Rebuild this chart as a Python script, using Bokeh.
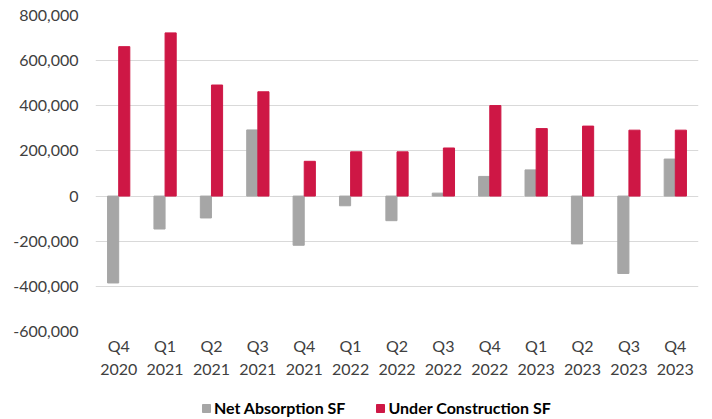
from bokeh.plotting import figure
from bokeh.layouts import column
from bokeh.models import (Legend, LegendItem, NumeralTickFormatter, ColumnDataSource,
                          FixedTicker, LinearAxis, Range1d)
from bokeh.transform import dodge
from bokeh.embed import file_html
from bokeh.resources import INLINE

quarters = ["Q4 2020", "Q1 2021", "Q2 2021", "Q3 2021", "Q4 2021", "Q1 2022", "Q2 2022",
            "Q3 2022", "Q4 2022", "Q1 2023", "Q2 2023", "Q3 2023", "Q4 2023"]
net_absorption = [-385000, -146000, -97000, 293000, -218000, -43000, -109000,
                  13000, 87000, 116000, -212000, -343000, 164000]
under_construction = [662000, 723000, 492000, 462000, 154000, 196000, 196000,
                      213000, 401000, 299000, 310000, 292000, 292000]
y_ticks = [-600000, -400000, -200000, 0, 200000, 400000, 600000, 800000]
series_names = ["Net Absorption SF", "Under Construction SF"]
series_fields = ["na", "uc"]
series_colors = ["#A6A6A6", "#CE1745"]

FONT = "Lato"
n = len(quarters)
centers = [i + 0.5 for i in range(n)]
src = ColumnDataSource(dict(xc=centers, na=net_absorption, uc=under_construction))

p = figure(width=712, height=392, x_range=Range1d(0, n),
           y_range=(-600000, 800000), output_backend="svg", toolbar_location=None,
           x_axis_location=None,
           min_border_left=95, min_border_right=14, min_border_top=15, min_border_bottom=61)
p.outline_line_color = None

p.vbar(x=dodge("xc", -0.12), top="na", width=0.24, source=src, color=series_colors[0])
p.vbar(x=dodge("xc", 0.12), top="uc", width=0.24, source=src, color=series_colors[1])

p.yaxis.ticker = FixedTicker(ticks=y_ticks)
p.yaxis.formatter = NumeralTickFormatter(format="0,0")
p.yaxis.axis_line_color = None
p.yaxis.major_tick_line_color = None
p.yaxis.minor_tick_line_color = None
p.yaxis.major_tick_out = 0
p.yaxis.major_label_text_font = FONT
p.yaxis.major_label_text_font_size = "16px"
p.yaxis.major_label_text_color = "#404040"
p.yaxis.major_label_standoff = 17

# two rows of category labels: quarter, then year
for part, standoff in [(0, 4), (1, 6)]:
    ax = LinearAxis(ticker=FixedTicker(ticks=centers))
    ax.axis_line_color = None
    ax.major_tick_line_color = None
    ax.minor_tick_line_color = None
    ax.major_tick_out = 0
    ax.major_tick_in = 0
    ax.minor_tick_out = 0
    ax.major_label_text_font = FONT
    ax.major_label_text_font_size = "16px"
    ax.major_label_text_color = "#404040"
    ax.major_label_standoff = standoff
    ax.major_label_overrides = {c: q.split(" ")[part] for c, q in zip(centers, quarters)}
    p.add_layout(ax, "below")

p.xgrid.grid_line_color = None
p.ygrid.grid_line_color = "#D9D9D9"
p.ygrid.grid_line_width = 1

# legend strip (its renderers use the same data, kept outside the strip's visible range)
lf = figure(width=712, height=27, x_range=Range1d(0, n), y_range=Range1d(1e7, 2e7),
            output_backend="svg", toolbar_location=None, min_border=0)
lf.outline_line_color = None
lf.axis.visible = False
lf.grid.visible = False
items = []
for name, field, col in zip(series_names, series_fields, series_colors):
    r = lf.vbar(x="xc", top=field, width=0.24, source=src, color=col)
    items.append(LegendItem(label=name, renderers=[r]))
legend = Legend(items=items, orientation="horizontal", location=(106, 2))
legend.label_text_font = FONT
legend.label_text_font_style = "bold"
legend.label_text_font_size = "16px"
legend.label_text_color = "#000000"
legend.glyph_width = 10
legend.glyph_height = 10
legend.label_standoff = 3
legend.spacing = 30
legend.border_line_color = None
legend.background_fill_alpha = 0
legend.padding = 2
legend.margin = 0
lf.add_layout(legend)

layout = column(p, lf, spacing=0)
open("out.html", "w").write(file_html(layout, INLINE))
